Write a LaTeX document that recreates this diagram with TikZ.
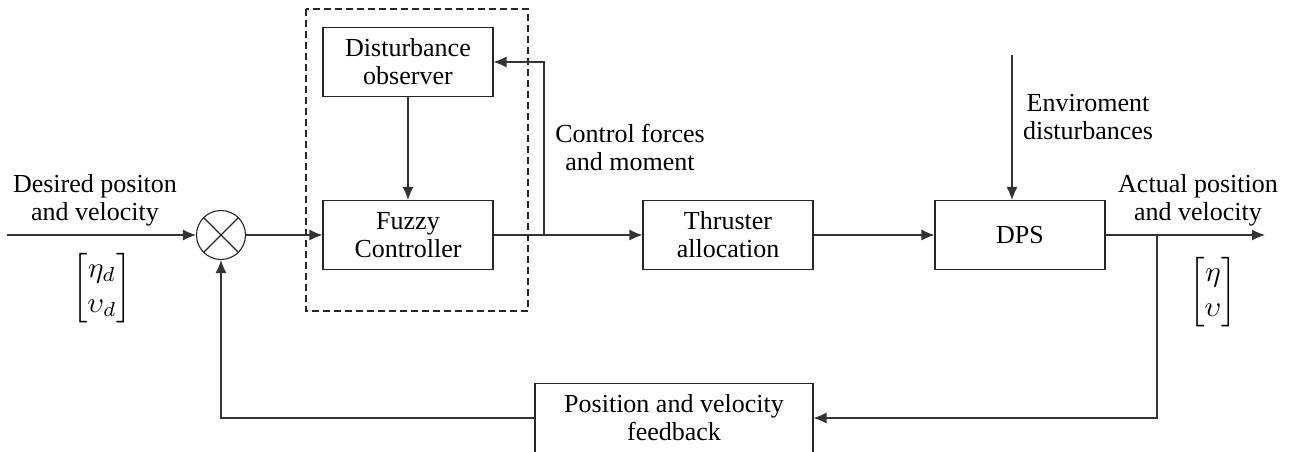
\documentclass[tikz,border=0pt]{standalone}
\usepackage{amsmath}
\usepackage{graphicx}
\usepackage{fontspec}
\setmainfont{Liberation Serif}
\usetikzlibrary{arrows.meta}
\begin{document}
\begin{tikzpicture}[x=1pt,y=-1pt,
  line/.style={draw=black!80,line width=1.2pt},
  arr/.style={line,-{Latex[length=13pt,width=11pt]}},
  blk/.style={draw=black!85,line width=1.1pt,minimum width=170pt,minimum height=69pt,align=center,inner sep=0pt,font=\rmfamily\fontsize{26}{28}\selectfont},
  lbl/.style={align=center,font=\rmfamily\fontsize{26}{28}\selectfont,inner sep=0pt},
  sum/.style={circle,draw=black!85,line width=1.1pt,minimum size=49pt,inner sep=0pt,
    path picture={\draw[black!85,line width=1.1pt] (path picture bounding box.south west)--(path picture bounding box.north east) (path picture bounding box.north west)--(path picture bounding box.south east);}}]
\useasboundingbox (0,0) rectangle (1293,452);
% dashed group
\draw[dash pattern=on 7pt off 4pt,line width=1.1pt,black!85] (306,9) rectangle (528,311);
% nodes
\node[blk] (do) at (408,62) {Disturbance\\observer};
\node[blk] (fc) at (408,235) {Fuzzy\\Controller};
\node[blk] (ta) at (728,235) {Thruster\\allocation};
\node[blk] (dps) at (1020,235) {DPS};
\node[blk,minimum width=278pt] (fb) at (674,418) {Position and velocity\\feedback};
\node[sum] (s) at (221,235) {};
% coordinates
\coordinate (in) at (7,235);
\coordinate (br) at (544,235);
\coordinate (out) at (1265,235);
\coordinate (tap) at (1157,235);
\coordinate (fbr) at (1157,418);
\coordinate (fbl) at (221,418);
\coordinate (env) at (1012,55);
% connectors
\draw[arr] (in) -- (s.west);
\draw[arr] (s.east) -- (fc.west);
\draw[arr] (do.south) -- (fc.north);
\draw[arr] (fc.east) -- (ta.west);
\draw[arr] (br) |- (do.east);
\draw[arr] (ta.east) -- (dps.west);
\draw[arr] (env) -- (env |- dps.north);
\draw[arr] (dps.east) -- (out);
\draw[arr] (tap) -- (fbr) -- (fb.east);
\draw[arr] (fb.west) -- (fbl) -- (s.south);
% labels
\node[lbl] (l1) at (95,200) {Desired positon\\and velocity};
\node[lbl] (l2) at (630,147) {Control forces\\and moment};
\node[lbl] (l3) at (1088,117) {Enviroment\\disturbances};
\node[lbl] (l4) at (1198,200) {Actual position\\and velocity};
\node[inner sep=0pt] (m1) at (102,288) {\scalebox{2.9}{$\begin{bmatrix}\eta_d\\ \upsilon_d\end{bmatrix}$}};
\node[inner sep=0pt] (m2) at (1213,292) {\scalebox{2.9}{$\begin{bmatrix}\eta\\ \upsilon\end{bmatrix}$}};
\end{tikzpicture}
\end{document}
